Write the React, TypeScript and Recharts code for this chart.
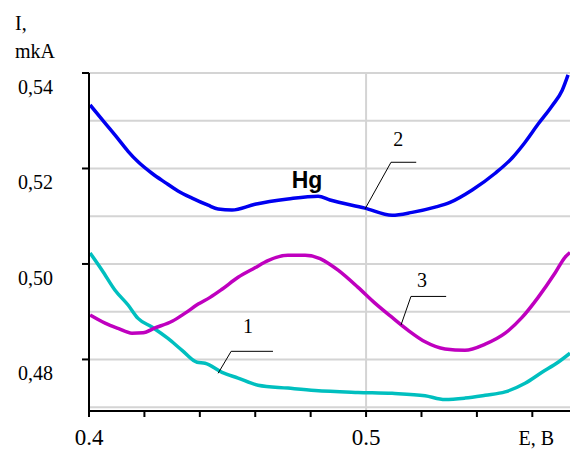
import { LineChart, Line, XAxis, YAxis, CartesianGrid, ReferenceLine, ReferenceDot } from 'recharts'

// curve 1 (cyan), 2 (blue), 3 (magenta): E in V, I in mkA
const curve1 = [
  [0.4004, 0.5023], [0.4047, 0.4987], [0.4094, 0.4945], [0.4141, 0.4914], [0.4177, 0.4886],
  [0.4227, 0.4868], [0.4285, 0.4844], [0.4336, 0.4819], [0.439, 0.4794], [0.4419, 0.4792],
  [0.448, 0.4773], [0.4538, 0.4761], [0.461, 0.4746], [0.4718, 0.474], [0.4816, 0.4735],
  [0.4971, 0.4731], [0.5094, 0.4729], [0.5213, 0.4724], [0.5285, 0.4716], [0.5357, 0.4719],
  [0.543, 0.4725], [0.5502, 0.4732], [0.5574, 0.475], [0.5635, 0.4773], [0.5693, 0.4794],
  [0.5736, 0.4813],
]
const curve2 = [
  [0.4004, 0.5333], [0.4058, 0.5295], [0.4105, 0.5262], [0.4141, 0.5236], [0.4177, 0.5214],
  [0.4227, 0.519], [0.4274, 0.5171], [0.4321, 0.5153], [0.4372, 0.5138], [0.443, 0.5123],
  [0.4466, 0.5115], [0.4516, 0.5113], [0.4599, 0.5125], [0.4718, 0.5136], [0.4827, 0.5142],
  [0.487, 0.5134], [0.4996, 0.5117], [0.5094, 0.5102], [0.5166, 0.5108], [0.5249, 0.5119],
  [0.5303, 0.5129], [0.5383, 0.5155], [0.5466, 0.519], [0.5527, 0.5222], [0.5574, 0.5255],
  [0.5621, 0.5293], [0.5671, 0.5331], [0.5708, 0.5364], [0.5729, 0.5396],
]
const curve3 = [
  [0.4004, 0.4893], [0.4058, 0.4876], [0.4105, 0.4865], [0.4155, 0.4855], [0.4195, 0.4856],
  [0.4238, 0.4866], [0.43, 0.488], [0.4347, 0.4897], [0.4394, 0.4916], [0.4437, 0.493],
  [0.448, 0.4947], [0.4538, 0.4972], [0.4599, 0.4992], [0.4646, 0.5007], [0.4718, 0.5018],
  [0.478, 0.5018], [0.4834, 0.5011], [0.487, 0.4999], [0.4899, 0.4987], [0.4971, 0.4951],
  [0.5032, 0.4918], [0.5094, 0.4888], [0.5152, 0.4861], [0.5213, 0.4837], [0.5285, 0.4822],
  [0.5357, 0.4819], [0.543, 0.4832], [0.5502, 0.4855], [0.5563, 0.4888], [0.5621, 0.493],
  [0.5682, 0.4981], [0.5718, 0.5014], [0.5736, 0.5024],
]

const xTicks = [0.4, 0.42, 0.44, 0.46, 0.48, 0.5, 0.52, 0.54, 0.56]
const xTickLabels = ['0.4', '', '', '', '', '0.5', '', '', 'E, B']
const yTicks = [0.47, 0.48, 0.49, 0.5, 0.51, 0.52, 0.53, 0.54]
const yTickLabels = ['', '0,48', '', '0,50', '', '0,52', '', '0,54']

// callouts: label position and leader line (elbow, end on curve)
const callouts = [
  { text: '1', label: [0.4574, 0.487], elbow: [0.4513, 0.4817], right: 0.4664, end: [0.4466, 0.4771] },
  { text: '2', label: [0.5116, 0.5262], elbow: [0.509, 0.5213], right: 0.5181, end: [0.4996, 0.5115] },
  { text: '3', label: [0.5202, 0.4966], elbow: [0.5162, 0.4932], right: 0.5289, end: [0.5126, 0.4872] },
]

const toPts = (arr: number[][]) => arr.map(([x, y]) => ({ x, y }))

const serif = '"Liberation Serif", "Times New Roman", serif'

function XTick({ x, y, payload }: any) {
  const i = xTicks.indexOf(payload.value)
  const label = xTickLabels[i] || ''
  const small = label === 'E, B'
  return (
    <g>
      <line x1={x} x2={x} y1={y} y2={y + 6} stroke="#000" strokeWidth={2} />
      {label && (
        <text x={small ? x + 4 : x} y={y + 34} textAnchor="middle"
          style={{ fontFamily: serif, fontSize: small ? 20 : 23 }} fill="#000">
          {label}
        </text>
      )}
    </g>
  )
}

function YTick({ x, y, payload }: any) {
  const i = yTicks.indexOf(payload.value)
  const label = yTickLabels[i] || ''
  if (!label) return <g />
  return (
    <g>
      <line x1={x - 7} x2={x} y1={y} y2={y} stroke="#000" strokeWidth={2} />
      <text x={x - 36} y={y + 21} textAnchor="end" style={{ fontFamily: serif, fontSize: 20 }} fill="#000">
        {label}
      </text>
    </g>
  )
}

export default function App() {
  return (
    <div style={{ position: 'absolute', left: 0, top: 0, background: '#fff', fontFamily: serif }}>
      <LineChart width={570} height={450} margin={{ top: 73, right: 0, bottom: 0, left: 0 }}>
        <CartesianGrid vertical={false} stroke="#d4d4d4" strokeWidth={2} />
        <XAxis dataKey="x" type="number" domain={[0.4, 0.5736]} ticks={xTicks} allowDataOverflow
          height={39} tickSize={0} tickMargin={0} tickLine={false}
          axisLine={{ stroke: '#000', strokeWidth: 2 }} tick={<XTick />} />
        <YAxis dataKey="y" type="number" domain={[0.4692, 0.54]} ticks={yTicks} allowDataOverflow
          width={89} tickSize={0} tickMargin={0} tickLine={false}
          axisLine={{ stroke: '#000', strokeWidth: 2 }} tick={<YTick />}
          label={{
            content: () => (
              <g style={{ fontFamily: serif, fontSize: 20 }} fill="#000">
                <text x={15} y={30}>I,</text>
                <text x={15} y={58}>mkA</text>
              </g>
            ),
          }} />
        <ReferenceLine x={0.5} stroke="#d4d4d4" strokeWidth={2} />
        <Line data={toPts(curve1)} dataKey="y" type="monotone" stroke="#00bfbf" strokeWidth={3.5}
          dot={false} isAnimationActive={false} />
        <Line data={toPts(curve3)} dataKey="y" type="monotone" stroke="#bf00bf" strokeWidth={3.5}
          dot={false} isAnimationActive={false} />
        <Line data={toPts(curve2)} dataKey="y" type="monotone" stroke="#0000f0" strokeWidth={3.5}
          dot={false} isAnimationActive={false} />
        {callouts.map((c) => (
          <ReferenceLine key={c.text + 'h'} ifOverflow="visible" stroke="#000" strokeWidth={1}
            segment={[{ x: c.elbow[0], y: c.elbow[1] }, { x: c.right, y: c.elbow[1] }]} />
        ))}
        {callouts.map((c) => (
          <ReferenceLine key={c.text + 'd'} ifOverflow="visible" stroke="#000" strokeWidth={1}
            segment={[{ x: c.elbow[0], y: c.elbow[1] }, { x: c.end[0], y: c.end[1] }]} />
        ))}
        {callouts.map((c) => (
          <ReferenceDot key={c.text} x={c.label[0]} y={c.label[1]} r={0} fill="none" stroke="none"
            ifOverflow="visible"
            label={{ value: c.text, position: 'center', fill: '#000', fontSize: 20, style: { fontFamily: serif } }} />
        ))}
        <ReferenceDot x={0.4787} y={0.5176} r={0} fill="none" stroke="none" ifOverflow="visible"
          label={{ value: 'Hg', position: 'center', fill: '#000', fontSize: 23, fontWeight: 'bold',
            style: { fontFamily: '"Liberation Sans", Arial, sans-serif' } }} />
      </LineChart>
    </div>
  )
}
